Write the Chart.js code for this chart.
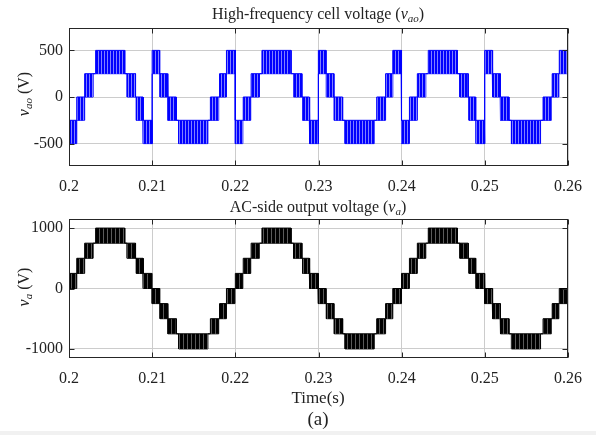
<!DOCTYPE html>
<html>
<head>
<meta charset="utf-8">
<script src="https://cdn.jsdelivr.net/npm/chart.js@4.4.0/dist/chart.umd.min.js"></script>
<style>
  html, body { margin: 0; padding: 0; background: #fff; }
  body { width: 596px; height: 435px; position: relative; overflow: hidden;
         font-family: "Liberation Serif", "Times New Roman", serif; color: #222; }
  .caja { position: absolute; left: 0; width: 596px; height: 200px; }
  .texto { position: absolute; white-space: nowrap; font-size: 16px; line-height: 1; }
  .centro { transform: translateX(-50%); }
  .vertical { transform: translate(-50%, -50%) rotate(-90deg); }
  sub { font-size: 11px; vertical-align: -3px; }
  #franja { position: absolute; left: 0; top: 431px; width: 596px; height: 4px; background: #f1f1f1; }
</style>
</head>
<body>
<div class="caja" style="top:0"><canvas id="plot1"></canvas></div>
<div class="caja" style="top:200px"><canvas id="plot2"></canvas></div>

<div class="texto centro" style="left:318px; top:6px">High-frequency cell voltage (<i>v<sub>ao</sub></i>)</div>
<div class="texto centro" style="left:318px; top:199px">AC-side output voltage (<i>v<sub>a</sub></i>)</div>
<div class="texto vertical" style="left:25px; top:94px"><i>v<sub>ao</sub></i> (V)</div>
<div class="texto vertical" style="left:25px; top:287px"><i>v<sub>a</sub></i> (V)</div>
<div class="texto centro" style="left:318px; top:389px; font-size:17px">Time(s)</div>
<div class="texto centro" style="left:318px; top:409px; font-size:19px">(a)</div>
<div id="franja"></div>

<script>
// Marcas del eje x y de los ejes y
const ticksX = [0.2, 0.21, 0.22, 0.23, 0.24, 0.25, 0.26];
const ticksVao = [-500, 0, 500];
const ticksVa = [-1000, 0, 1000];

// Inicio y fin de cada bloque de conmutacion (s), 7 bloques por semiciclo
const inicioBloque = [
  0.2000, 0.20095, 0.2019, 0.2032, 0.2070, 0.2081, 0.20895,
  0.2100, 0.21095, 0.2119, 0.2132, 0.2170, 0.2181, 0.21895,
  0.2200, 0.22095, 0.2219, 0.2232, 0.2270, 0.2281, 0.22895,
  0.2300, 0.23095, 0.2319, 0.2332, 0.2370, 0.2381, 0.23895,
  0.2400, 0.24095, 0.2419, 0.2432, 0.2470, 0.2481, 0.24895,
  0.2500, 0.25095, 0.2519, 0.2532, 0.2570, 0.2581, 0.25895
];
const finBloque = [
  0.2009, 0.20185, 0.2029, 0.2067, 0.2080, 0.2089, 0.20995,
  0.2109, 0.21185, 0.2129, 0.2167, 0.2180, 0.2189, 0.21995,
  0.2209, 0.22185, 0.2229, 0.2267, 0.2280, 0.2289, 0.22995,
  0.2309, 0.23185, 0.2329, 0.2367, 0.2380, 0.2389, 0.23995,
  0.2409, 0.24185, 0.2429, 0.2467, 0.2480, 0.2489, 0.24995,
  0.2509, 0.25185, 0.2529, 0.2567, 0.2580, 0.2589, 0.2600
];

// Niveles entre los que conmuta v_ao en cada bloque (V)
const vaoBajo = [
  -500, -250, 0, 250, 0, -250, -500,
  250, 0, -250, -500, -250, 0, 250,
  -500, -250, 0, 250, 0, -250, -500,
  250, 0, -250, -500, -250, 0, 250,
  -500, -250, 0, 250, 0, -250, -500,
  250, 0, -250, -500, -250, 0, 250
];
const vaoAlto = [
  -250, 0, 250, 500, 250, 0, -250,
  500, 250, 0, -250, 0, 250, 500,
  -250, 0, 250, 500, 250, 0, -250,
  500, 250, 0, -250, 0, 250, 500,
  -250, 0, 250, 500, 250, 0, -250,
  500, 250, 0, -250, 0, 250, 500
];
const vaoInicial = 500;

// Niveles entre los que conmuta v_a en cada bloque (V)
const vaBajo = [
  0, 250, 500, 750, 500, 250, 0,
  -250, -500, -750, -1000, -750, -500, -250,
  0, 250, 500, 750, 500, 250, 0,
  -250, -500, -750, -1000, -750, -500, -250,
  0, 250, 500, 750, 500, 250, 0,
  -250, -500, -750, -1000, -750, -500, -250
];
const vaAlto = [
  250, 500, 750, 1000, 750, 500, 250,
  0, -250, -500, -750, -500, -250, 0,
  250, 500, 750, 1000, 750, 500, 250,
  0, -250, -500, -750, -500, -250, 0,
  250, 500, 750, 1000, 750, 500, 250,
  0, -250, -500, -750, -500, -250, 0
];
const vaInicial = 0;

//Arma la envolvente superior e inferior de la forma de onda a partir de los bloques
let envolvente = (inicio, fin, bajo, alto, nivelInicial) => {
  let sup = [{ x: inicio[0], y: nivelInicial }]
  let inf = [{ x: inicio[0], y: nivelInicial }]
  for (let i = 0; i < inicio.length; i++) {
    sup.push({ x: inicio[i], y: alto[i] }, { x: fin[i], y: alto[i] })
    inf.push({ x: inicio[i], y: bajo[i] }, { x: fin[i], y: bajo[i] })
    if (i + 1 < inicio.length) {
      let f
      if (alto[i] == bajo[i + 1]) f = alto[i]
      else if (bajo[i] == alto[i + 1]) f = bajo[i]
      else f = bajo[i + 1] > alto[i] ? bajo[i] : alto[i]
      sup.push({ x: fin[i], y: f }, { x: inicio[i + 1], y: f })
      inf.push({ x: fin[i], y: f }, { x: inicio[i + 1], y: f })
    }
  }
  return [sup, inf]
}

//Patron de rayas verticales para simular la conmutacion PWM
let rayas = (canvas, color, claro, ancho) => {
  let c = document.createElement('canvas')
  c.width = ancho; c.height = 1
  let g = c.getContext('2d')
  g.fillStyle = claro; g.fillRect(0, 0, ancho, 1)
  g.fillStyle = color; g.fillRect(0, 0, ancho - 1, 1)
  return canvas.getContext('2d').createPattern(c, 'repeat')
}

//Marco tipo MATLAB con marcas hacia adentro
const marco = {
  id: 'marco',
  afterDatasetsDraw(chart) {
    const { ctx, chartArea: a, scales: { x, y } } = chart
    let l = Math.round(a.left) + 0.5, r = Math.round(a.right) - 0.5
    let t = Math.round(a.top) + 0.5, b = Math.round(a.bottom) - 0.5
    ctx.save()
    ctx.strokeStyle = '#262626'
    ctx.lineWidth = 1
    ctx.strokeRect(l, t, r - l, b - t)
    ctx.beginPath()
    x.ticks.forEach(tk => {
      let px = Math.round(x.getPixelForValue(tk.value)) + 0.5
      ctx.moveTo(px, b); ctx.lineTo(px, b - 5)
      ctx.moveTo(px, t); ctx.lineTo(px, t + 5)
    })
    y.ticks.forEach(tk => {
      let py = Math.round(y.getPixelForValue(tk.value)) + 0.5
      ctx.moveTo(l, py); ctx.lineTo(l + 5, py)
      ctx.moveTo(r, py); ctx.lineTo(r - 5, py)
    })
    ctx.stroke()
    ctx.restore()
  }
}

let fuente = { family: '"Liberation Serif", "Times New Roman", serif', size: 16 }

let crearGrafico = (id, datos, color, patron, rango, ticksY, altoEjeX, arriba) => {
  let [sup, inf] = datos
  let plotRef = document.getElementById(id)
  let config = {
    type: 'line',
    data: {
      datasets: [
        {
          data: sup,
          borderColor: color,
          borderWidth: 1,
          backgroundColor: patron,
          fill: '+1',
          pointRadius: 0,
          tension: 0
        },
        {
          data: inf,
          borderColor: color,
          borderWidth: 1,
          fill: false,
          pointRadius: 0,
          tension: 0
        }
      ]
    },
    options: {
      responsive: true,
      maintainAspectRatio: false,
      animation: false,
      events: [],
      layout: { padding: { left: 0, right: 28, top: arriba, bottom: 0 } },
      plugins: { legend: { display: false }, tooltip: { enabled: false } },
      scales: {
        x: {
          type: 'linear',
          min: 0.2,
          max: 0.26,
          afterBuildTicks: axis => { axis.ticks = ticksX.map(v => ({ value: v })) },
          afterFit: axis => { axis.height = altoEjeX },
          grid: { color: '#cccccc', drawTicks: false },
          border: { display: false },
          ticks: { font: fuente, color: '#222', padding: 11, maxRotation: 0, callback: v => String(v) }
        },
        y: {
          min: -rango,
          max: rango,
          afterBuildTicks: axis => { axis.ticks = ticksY.map(v => ({ value: v })) },
          afterFit: axis => { axis.width = 69 },
          grid: { color: '#cccccc', drawTicks: false },
          border: { display: false },
          ticks: { font: fuente, color: '#222', padding: 6, callback: v => String(v) }
        }
      }
    },
    plugins: [marco]
  }
  return new Chart(plotRef, config)
}

let c1 = document.getElementById('plot1')
let c2 = document.getElementById('plot2')

crearGrafico('plot1', envolvente(inicioBloque, finBloque, vaoBajo, vaoAlto, vaoInicial),
  '#0000ff', rayas(c1, '#0000ff', '#8080ff', 3), 740, ticksVao, 34, 28)

crearGrafico('plot2', envolvente(inicioBloque, finBloque, vaBajo, vaAlto, vaInicial),
  '#000000', rayas(c2, '#000000', '#5a5a5a', 4), 1150, ticksVa, 42, 19)
</script>
</body>
</html>
